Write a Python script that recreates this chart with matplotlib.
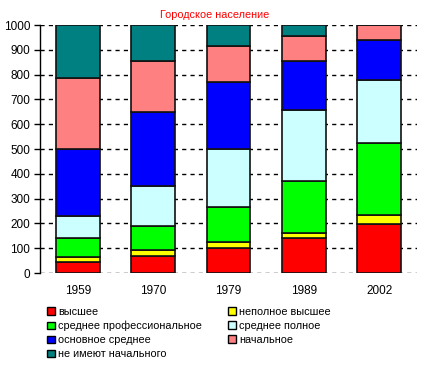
import numpy as np
import matplotlib.pyplot as plt
from matplotlib.patches import Patch

plt.rcParams["font.family"] = ["Liberation Sans", "DejaVu Sans"]

years = ["1959", "1970", "1979", "1989", "2002"]
categories = [
    "высшее",
    "неполное высшее",
    "среднее профессиональное",
    "среднее полное",
    "основное среднее",
    "начальное",
    "не имеют начального",
]
colors = ["#FF0000", "#FFFF00", "#00FF00", "#CCFFFF", "#0000FF", "#FF8080", "#008080"]

vysshee = [44, 69, 99, 140, 196]
nepolnoe_vysshee = [19, 22, 24, 21, 36]
srednee_prof = [77, 100, 144, 211, 294]
srednee_polnoe = [91, 158, 235, 286, 253]
osnovnoe_srednee = [271, 301, 270, 197, 162]
nachalnoe = [285, 205, 145, 102, 59]
ne_imeyut = [213, 145, 83, 43, 0]

series = [vysshee, nepolnoe_vysshee, srednee_prof, srednee_polnoe,
          osnovnoe_srednee, nachalnoe, ne_imeyut]

FS = 8.5
FS_LEG = 7.8

fig = plt.figure(figsize=(4.23, 3.65), dpi=100)
ax = fig.add_axes([40 / 423, 92 / 365, 377 / 423, 248 / 365])

x = np.arange(len(years))
bottom = np.zeros(len(years))
for vals, col, lab in zip(series, colors, categories):
    ax.bar(x, vals, width=0.58, bottom=bottom, color=col, edgecolor="#111111",
           linewidth=1.2, label=lab, zorder=3)
    bottom += np.array(vals)

ax.set_xlim(-0.5, len(years) - 0.5)
ax.set_ylim(0, 1000)
ax.set_yticks(np.arange(0, 1001, 100))
ax.set_xticks(x)
ax.set_xticklabels(years)
ax.yaxis.grid(True, color="black", linestyle=(0, (3, 3)), linewidth=1, zorder=0)
for s in ["top", "right", "bottom"]:
    ax.spines[s].set_visible(False)
ax.spines["left"].set_linewidth(1)
ax.tick_params(axis="y", length=4, width=1, labelsize=FS, pad=3)
ax.tick_params(axis="x", length=0, labelsize=FS, pad=9)

fig.text(215 / 423, 1 - 15 / 365, "Городское население", color="#FF0000",
         fontsize=FS_LEG, ha="center", va="center")


def add_legend(idx, x0):
    handles = [Patch(facecolor=colors[i], edgecolor="black", linewidth=1) for i in idx]
    labels = [categories[i] for i in idx]
    leg = fig.legend(handles, labels, loc="upper left",
                     bbox_to_anchor=(x0 / 423, 1 - 307 / 365), frameon=False,
                     fontsize=FS_LEG, handlelength=0.7, handleheight=0.7,
                     handletextpad=0.35, labelspacing=0.36, borderpad=0.0,
                     borderaxespad=0.0)
    return leg


add_legend([0, 2, 4, 6], 47)
add_legend([1, 3, 5], 228)

fig.savefig("out.png", dpi=100)
